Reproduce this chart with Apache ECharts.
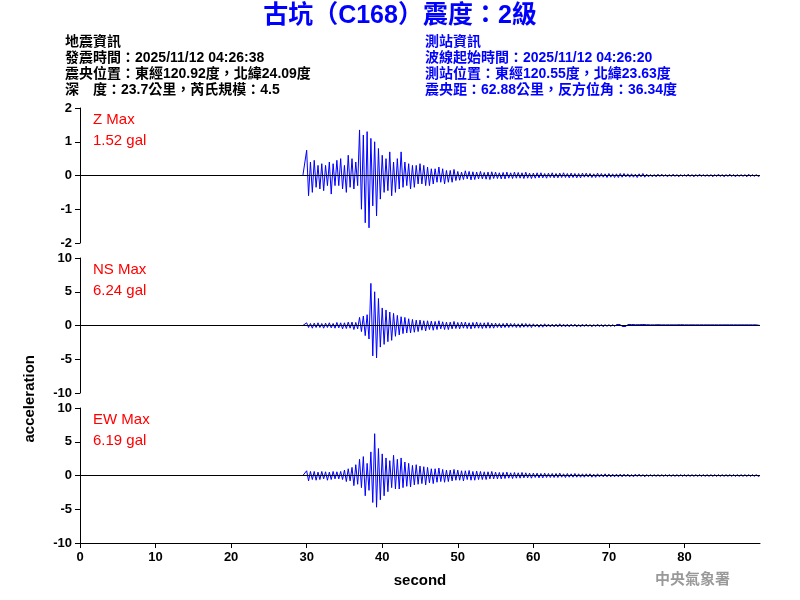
<!DOCTYPE html>
<html><head><meta charset="utf-8">
<script src="https://cdn.jsdelivr.net/npm/echarts@6/dist/echarts.min.js"></script>
<style>body{margin:0}#c{width:800px;height:600px}</style></head>
<body><div id="c"></div>
<script>
const START = 29.5, STEP = 0.25;
const xTicks = [0,10,20,30,40,50,60,70,80];
const zVals = [0,0,
0.75,-0.6,0.4,-0.5, 0.45,-0.35,0.3,-0.4, 0.35,-0.45,0.3,-0.3, 0.4,-0.55,0.35,-0.3, 0.45,-0.3,0.5,-0.4,
0.3,-0.5,0.6,-0.35, 0.5,-0.4,0.4,-0.3, 1.35,-1.0,1.2,-1.4, 1.3,-1.55,1.1,-0.9, 1.0,-1.2,0.8,-0.7,
0.6,-0.5,0.5,-0.45, 0.7,-0.6,0.4,-0.5, 0.5,-0.4,0.7,-0.35, 0.4,-0.3,0.35,-0.4, 0.3,-0.35,0.3,-0.25,
0.35,-0.25,0.3,-0.3, 0.25,-0.3,0.2,-0.25, 0.2,-0.2,0.25,-0.2, 0.2,-0.25,0.15,-0.2, 0.15,-0.2,0.18,-0.15,
0.12,-0.14,0.1,-0.12, 0.14,-0.1,0.12,-0.13, 0.11,-0.12,0.1,-0.1, 0.12,-0.1,0.09,-0.11, 0.1,-0.12,0.11,-0.09,
0.1,-0.09,0.08,-0.1, 0.09,-0.1,0.1,-0.08, 0.08,-0.09,0.1,-0.08, 0.09,-0.08,0.08,-0.09, 0.1,-0.08,0.07,-0.09,
0.07,-0.08,0.08,-0.07, 0.08,-0.07,0.06,-0.08, 0.07,-0.06,0.08,-0.07, 0.06,-0.07,0.07,-0.06, 0.08,-0.06,0.06,-0.07,
0.07,-0.06,0.06,-0.07, 0.06,-0.07,0.07,-0.05, 0.07,-0.05,0.06,-0.06, 0.05,-0.06,0.07,-0.05, 0.06,-0.05,0.05,-0.06,
0.06,-0.05,0.05,-0.06, 0.05,-0.06,0.06,-0.05, 0.06,-0.04,0.05,-0.05, 0.05,-0.05,0.04,-0.06, 0.05,-0.04,0.06,-0.05,
0.04,-0.04,0.03,-0.04, 0.03,-0.04,0.04,-0.03, 0.04,-0.03,0.03,-0.04, 0.03,-0.03,0.04,-0.03, 0.03,-0.04,0.03,-0.03,
0.03,-0.03,0.04,-0.03, 0.03,-0.04,0.03,-0.03, 0.04,-0.03,0.03,-0.03, 0.03,-0.03,0.03,-0.04, 0.03,-0.03,0.04,-0.03,
0.03,-0.04,0.03,-0.03, 0.04,-0.03,0.03,-0.04, 0.03,-0.03,0.03,-0.03, 0.03,-0.04,0.04,-0.03, 0.03,-0.03,0.03,-0.03,
0];
const nsVals = [0,0,
0.4,-0.3,0.3,-0.4, 0.35,-0.3,0.4,-0.3, 0.3,-0.4,0.35,-0.3, 0.4,-0.35,0.3,-0.4, 0.45,-0.35,0.4,-0.5,
0.4,-0.45,0.5,-0.4, 0.5,-0.6,0.45,-0.5, 1.2,-0.9,1.4,-1.5, 1.6,-2.0,6.24,-4.5, 5.0,-4.8,4.0,-3.2,
2.6,-2.8,2.3,-2.4, 2.0,-2.2,1.8,-1.6, 1.5,-1.4,1.3,-1.2, 1.2,-1.1,1.0,-1.1, 0.9,-1.0,0.8,-0.9,
0.8,-0.7,0.7,-0.8, 0.7,-0.6,0.65,-0.7, 0.6,-0.6,0.7,-0.5, 0.55,-0.6,0.5,-0.6, 0.5,-0.5,0.6,-0.45,
0.45,-0.5,0.5,-0.4, 0.5,-0.45,0.4,-0.5, 0.45,-0.4,0.5,-0.4, 0.4,-0.45,0.4,-0.4, 0.45,-0.4,0.35,-0.4,
0.35,-0.3,0.3,-0.35, 0.3,-0.3,0.35,-0.3, 0.3,-0.25,0.3,-0.3, 0.25,-0.3,0.3,-0.25, 0.3,-0.25,0.25,-0.3,
0.25,-0.2,0.2,-0.25, 0.2,-0.25,0.25,-0.2, 0.2,-0.2,0.2,-0.2, 0.2,-0.2,0.25,-0.2, 0.2,-0.2,0.2,-0.2,
0.2,-0.15,0.2,-0.2, 0.15,-0.2,0.2,-0.15, 0.2,-0.15,0.15,-0.2, 0.15,-0.15,0.2,-0.15, 0.15,-0.2,0.15,-0.15,
0.15,-0.15,0.15,-0.15, 0.15,-0.12,0.15,-0.15, 0.12,-0.15,0.15,-0.12, 0.15,-0.12,0.12,-0.15, 0.12,-0.12,0.15,-0.12,
0.12,-0.1,0.1,-0.12, 0.1,-0.1,0.12,-0.1, 0.1,-0.1,0.1,-0.1, 0.1,-0.12,0.1,-0.1, 0.1,-0.1,0.12,-0.1,
0.1,-0.1,0.1,-0.1, 0.1,-0.1,0.1,-0.1, 0.1,-0.1,0.1,-0.1, 0.1,-0.1,0.1,-0.1, 0.1,-0.1,0.1,-0.1,
0.1,-0.1,0.1,-0.1, 0.1,-0.1,0.1,-0.1, 0.1,-0.1,0.1,-0.1, 0.1,-0.1,0.1,-0.1, 0.1,-0.1,0.1,-0.1,
0];
const ewVals = [0,0,
0.7,-0.8,0.6,-0.6, 0.6,-0.7,0.5,-0.6, 0.6,-0.5,0.55,-0.7, 0.5,-0.6,0.6,-0.5, 0.55,-0.5,0.6,-0.6,
0.8,-0.9,1.0,-0.8, 1.2,-1.5,1.6,-1.3, 2.4,-1.8,2.8,-3.0, 1.8,-2.2,3.5,-4.0, 6.19,-4.7,4.0,-3.6,
3.2,-3.0,2.6,-2.4, 2.2,-1.8,3.0,-2.0, 2.4,-2.0,2.6,-1.8, 2.0,-1.6,1.8,-1.7, 1.5,-1.4,1.6,-1.3,
1.4,-1.2,1.3,-1.4, 1.2,-1.1,1.0,-1.2, 1.0,-1.0,1.1,-0.9, 0.9,-1.0,0.8,-0.9, 0.8,-0.8,0.9,-0.7,
0.8,-0.7,0.7,-0.8, 0.7,-0.6,0.75,-0.7, 0.6,-0.7,0.65,-0.6, 0.6,-0.6,0.55,-0.6, 0.55,-0.5,0.6,-0.5,
0.5,-0.5,0.45,-0.5, 0.45,-0.45,0.5,-0.4, 0.4,-0.45,0.45,-0.4, 0.4,-0.4,0.45,-0.35, 0.4,-0.35,0.35,-0.4,
0.35,-0.3,0.35,-0.35, 0.3,-0.35,0.35,-0.3, 0.3,-0.3,0.3,-0.3, 0.3,-0.3,0.35,-0.25, 0.25,-0.3,0.3,-0.25,
0.25,-0.25,0.3,-0.25, 0.25,-0.25,0.25,-0.25, 0.25,-0.2,0.25,-0.25, 0.2,-0.25,0.25,-0.2, 0.2,-0.2,0.25,-0.2,
0.2,-0.2,0.2,-0.2, 0.2,-0.2,0.2,-0.2, 0.2,-0.15,0.2,-0.2, 0.15,-0.2,0.2,-0.15, 0.2,-0.15,0.15,-0.2,
0.15,-0.15,0.15,-0.15, 0.15,-0.15,0.15,-0.15, 0.15,-0.15,0.15,-0.15, 0.15,-0.15,0.15,-0.15, 0.15,-0.15,0.15,-0.15,
0.15,-0.15,0.15,-0.15, 0.15,-0.15,0.15,-0.15, 0.15,-0.15,0.15,-0.15, 0.15,-0.15,0.15,-0.15, 0.15,-0.15,0.15,-0.15,
0.15,-0.15,0.15,-0.15, 0.15,-0.15,0.15,-0.15, 0.15,-0.15,0.15,-0.15, 0.15,-0.15,0.15,-0.15, 0.15,-0.15,0.15,-0.15,
0];
const traceNames = ['Z Max','NS Max','EW Max'];
const maxLabels = ['1.52 gal','6.24 gal','6.19 gal'];
const yRanges = [[-2,2,1],[-10,10,5],[-10,10,5]];
const leftInfo = ['地震資訊','發震時間：2025/11/12 04:26:38','震央位置：東經120.92度，北緯24.09度','深　度：23.7公里，芮氏規模：4.5'];
const rightInfo = ['測站資訊','波線起始時間：2025/11/12 04:26:20','測站位置：東經120.55度，北緯23.63度','震央距：62.88公里，反方位角：36.34度'];

const toPts = v => [[0,0]].concat(v.map((y,i)=>[START+i*STEP,y]));
const all = [zVals,nsVals,ewVals];
const tops = [108,258,408];
const cjk = '"Liberation Sans", "Noto Sans CJK TC", sans-serif';
const lab = {color:'#000',fontWeight:'bold',fontSize:13,fontFamily:'Liberation Sans, Arial'};
const opt = {animation:false, backgroundColor:'#fff',
 grid: tops.map(t=>({left:80,width:680,top:t,height:135})),
 xAxis: tops.map((t,i)=>({type:'value',gridIndex:i,min:0,max:90,interval:10,
   show:true, axisLine:{show:i===2,onZero:false,lineStyle:{color:'#000'}},
   axisTick:{show:i===2,length:5,lineStyle:{color:'#000'}},
   axisLabel:{show:i===2,...lab,showMaxLabel:false,formatter:v=>xTicks.includes(v)?String(v):''}, splitLine:{show:false},
   name:i===2?'second':'',nameLocation:'middle',nameGap:30,nameTextStyle:{...lab,fontSize:15}})),
 yAxis: yRanges.map((r,i)=>({type:'value',gridIndex:i,min:r[0],max:r[1],interval:r[2],
   axisLine:{show:true,lineStyle:{color:'#000'}},axisTick:{show:true,length:5,lineStyle:{color:'#000'}},
   axisLabel:{...lab,margin:8},splitLine:{show:false}})),
 series: all.map((v,i)=>({type:'line',xAxisIndex:i,yAxisIndex:i,data:toPts(v),showSymbol:false,symbol:'none',
   lineStyle:{color:'#0000ff',width:1},
   markLine:{silent:true,symbol:'none',label:{show:false},lineStyle:{color:'#000',width:1,type:'solid'},data:[{yAxis:0}]}})),
 graphic:[
  {type:'text',left:'center',top:4,style:{text:'古坑（C168）震度：2級',fill:'#0000ff',font:'bold 25px '+cjk}},
  ...leftInfo.map((s,k)=>({type:'text',left:65,top:35+k*16,style:{text:s,fill:'#000',font:'bold 14px '+cjk}})),
  ...rightInfo.map((s,k)=>({type:'text',left:425,top:35+k*16,style:{text:s,fill:'#0000ff',font:'bold 14px '+cjk}})),
  ...traceNames.map((s,k)=>({type:'text',left:93,top:tops[k]+1,style:{text:s+'\n'+maxLabels[k],fill:'#ff0000',font:'15px "Liberation Sans", Arial',lineHeight:21}})),
  {type:'text',left:22,top:355,rotation:Math.PI/2,style:{text:'acceleration',fill:'#000',font:'bold 15px "Liberation Sans", Arial'}},
  {type:'text',left:655,top:571,style:{text:'中央氣象署',fill:'#999',font:'bold 15px "Noto Sans CJK TC"'}}
 ]};
echarts.init(document.getElementById('c')).setOption(opt);
</script></body></html>
